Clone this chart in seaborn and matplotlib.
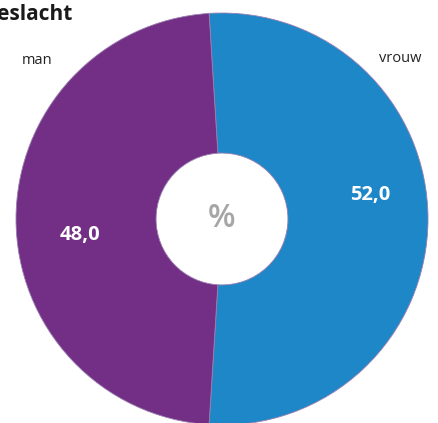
import matplotlib
matplotlib.use("Agg")
import matplotlib.pyplot as plt
import seaborn as sns

title = "Geslacht"
categories = ["vrouw", "man"]
values = [52.0, 48.0]
value_labels = ["52,0", "48,0"]
center_label = "%"

sns.set_theme(style="white")
plt.rcParams['font.family'] = ['Open Sans', 'DejaVu Sans']

colors = ["#1E87C8", "#722F85"]

W, H = 438, 423
fig = plt.figure(figsize=(W / 100, H / 100), dpi=100)
fig.patch.set_facecolor("white")

cx, cy, r = 222, 219, 206
ax = fig.add_axes([(cx - r) / W, (H - cy - r) / H, 2 * r / W, 2 * r / H])
ax.axis("off")

start = 93.6
wedges, _ = ax.pie(values, colors=colors, startangle=start, counterclock=False,
                   radius=1, wedgeprops=dict(width=0.68, linewidth=0.6, edgecolor="#9a7fb0"))
ax.set_xlim(-1, 1)
ax.set_ylim(-1, 1)
ax.set_aspect("equal")

def px(x, y):
    return ((x - cx) / r, (cy - y) / r)

# value labels
for lab, pos in zip(value_labels, [(370, 195), (80, 235)]):
    ax.text(*px(*pos), lab, ha="center", va="center", color="white",
            fontsize=14.5, fontweight="bold", clip_on=False)

# category labels
for cat, pos in zip(categories, [(400, 58), (37, 60)]):
    ax.text(*px(*pos), cat, ha="center", va="center", color="#222222",
            fontsize=10.5, clip_on=False)

ax.text(*px(222, 218), center_label, ha="center", va="center", color="#A6A6A6",
        fontsize=23, fontweight="semibold", clip_on=False)

fig.text(73 / W, 1 - 14 / H, title, ha="right", va="center", fontsize=15,
         fontweight="bold", color="#1a1a1a")

fig.savefig("out.png", dpi=100, facecolor="white")
